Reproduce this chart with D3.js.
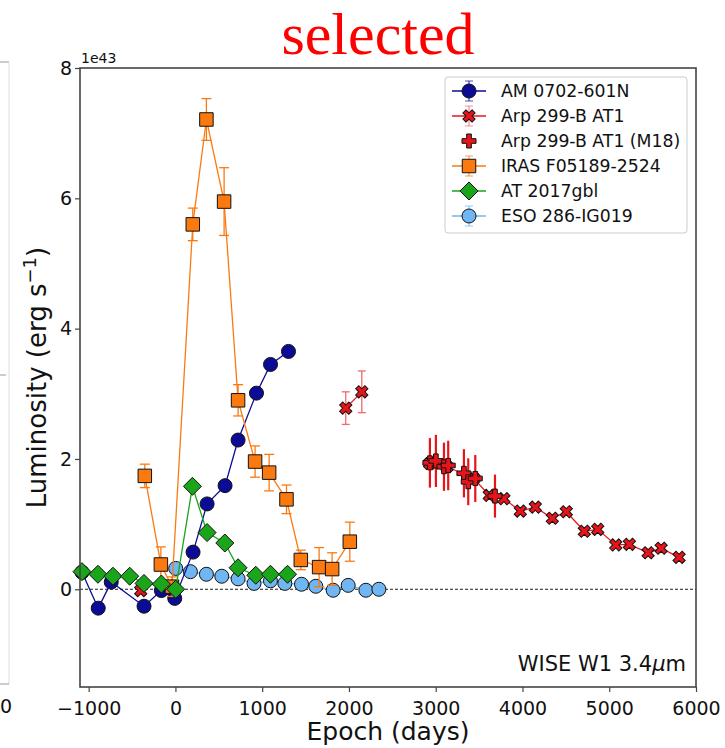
<!DOCTYPE html>
<html>
<head>
<meta charset="utf-8">
<script src="https://cdn.jsdelivr.net/npm/d3@7"></script>
<style>
  body { margin: 0; background: #fff; }
  svg { display: block; font-family: "DejaVu Sans", sans-serif; }
</style>
</head>
<body>
<svg id="chart"></svg>
<script>
// AM 0702-601N
const amEpoch = [-1077, -890, -740, -362, -162, -8, 203, 365, 572, 722, 934, 1096, 1303];
const amLum = [0.26, -0.29, 0.11, -0.26, -0.02, -0.14, 0.57, 1.31, 1.59, 2.29, 3.01, 3.45, 3.65];

// Arp 299-B AT1 (three separate runs)
const arpPreEpoch = [-400];
const arpPreLum = [-0.02];
const arpEpoch = [1963, 2148];
const arpLum = [2.78, 3.03];
const arpErr = [0.25, 0.32];
const arpLateEpoch = [2930, 3130, 3440, 3617, 3786, 3975, 4148, 4344, 4505, 4713, 4867, 5075, 5232, 5448, 5598, 5805];
const arpLateLum = [1.93, 1.88, 1.70, 1.44, 1.39, 1.20, 1.26, 1.09, 1.19, 0.89, 0.92, 0.68, 0.69, 0.56, 0.63, 0.49];

// Arp 299-B AT1 (M18)
const m18Epoch = [2933, 3002, 3095, 3144, 3325, 3375, 3456, 3683];
const m18Lum = [1.94, 1.97, 1.88, 1.90, 1.78, 1.65, 1.70, 1.43];
const m18Err = [0.38, 0.40, 0.37, 0.38, 0.37, 0.36, 0.36, 0.33];

// IRAS F05189-2524
const irasEpoch = [-353, -168, -40, 200, 357, 561, 722, 918, 1080, 1280, 1445, 1656, 1806, 2010];
const irasLum = [1.74, 0.38, 0.04, 5.60, 7.21, 5.95, 2.90, 1.96, 1.79, 1.38, 0.45, 0.34, 0.31, 0.73];
const irasErr = [0.18, 0.27, 0.15, 0.25, 0.32, 0.52, 0.24, 0.24, 0.28, 0.22, 0.15, 0.30, 0.25, 0.30];

// AT 2017gbl
const gblEpoch = [-1077, -893, -720, -527, -362, -162, 3, 196, 365, 569, 722, 926, 1095, 1292];
const gblLum = [0.27, 0.23, 0.20, 0.20, 0.09, 0.08, 0.0, 1.58, 0.87, 0.71, 0.33, 0.215, 0.23, 0.23];

// ESO 286-IG019
const esoEpoch = [3, 173, 357, 534, 722, 906, 1095, 1261, 1453, 1618, 1818, 1991, 2195, 2345];
const esoLum = [0.32, 0.27, 0.23, 0.20, 0.16, 0.09, 0.13, 0.09, 0.077, 0.046, -0.015, 0.06, -0.015, 0.0];

const xTicks = [-1000, 0, 1000, 2000, 3000, 4000, 5000, 6000];
const yTicks = [0, 2, 4, 6, 8];

const legendNames = ["AM 0702-601N", "Arp 299-B AT1", "Arp 299-B AT1 (M18)", "IRAS F05189-2524", "AT 2017gbl", "ESO 286-IG019"];

const width = 725;
const height = 748;
const plot = { left: 80, right: 696, top: 68, bottom: 687 };

const svg = d3.select("#chart").attr("width", width).attr("height", height);

const x = d3.scaleLinear().domain([-1100, 6000]).range([plot.left, plot.right]);
const y = d3.scaleLinear().domain([-1.5, 8]).range([plot.bottom, plot.top]);

// marker shapes
const shapes = {
	circle: (s) => d3.symbol().type(d3.symbolCircle).size(Math.PI * s * s / 4)(),
	square: (s) => `M${-s / 2},${-s / 2}h${s}v${s}h${-s}Z`,
	diamond: (s) => `M0,${-s / 2}L${s / 2},0L0,${s / 2}L${-s / 2},0Z`,
	plus: (s) => { const a = s / 2, b = s / 6; return `M${-b},${-a}h${2 * b}v${a - b}h${a - b}v${2 * b}h${b - a}v${a - b}h${-2 * b}v${b - a}h${b - a}v${-2 * b}h${a - b}Z`; },
};
shapes.xmark = (s) => shapes.plus(s);

const zip = (xs, ys, es) => xs.map((d, i) => ({ x: d, y: ys[i], e: es ? es[i] : 0 }));

// remnant of the neighbouring panel on the left
const rem = svg.append("g").attr("stroke", "#999").attr("stroke-width", 1);
rem.append("line").attr("x1", 0).attr("x2", 9).attr("y1", 62).attr("y2", 62);
rem.append("line").attr("x1", 9).attr("x2", 9).attr("y1", 62).attr("y2", 684).attr("stroke", "#ddd");
rem.append("line").attr("x1", 0).attr("x2", 9).attr("y1", 684).attr("y2", 684);
rem.append("line").attr("x1", 0).attr("x2", 6).attr("y1", 375).attr("y2", 375);
svg.append("text").attr("x", 0).attr("y", 713)
	.attr("font-size", 19).attr("fill", "#111").text("0");

// title
svg.append("text").attr("x", 378).attr("y", 54).attr("text-anchor", "middle")
	.attr("font-family", "'Liberation Serif', 'Times New Roman', serif")
	.attr("font-size", 60).attr("fill", "#f00").text("selected");

// zero line
svg.append("line")
	.attr("x1", plot.left).attr("x2", plot.right)
	.attr("y1", y(0)).attr("y2", y(0))
	.attr("stroke", "#000").attr("stroke-width", 0.9).attr("stroke-dasharray", "3,2");

const body = svg.append("g");

function drawSeries(pts, o) {
	const g = body.append("g");
	if (o.line) {
		g.append("path")
			.attr("d", d3.line().x((d) => x(d.x)).y((d) => y(d.y))(pts))
			.attr("fill", "none").attr("stroke", o.color).attr("stroke-width", 1.3);
	}
	const eb = pts.filter((d) => d.e > 0);
	g.selectAll(".eb").data(eb).enter().append("line")
		.attr("x1", (d) => x(d.x)).attr("x2", (d) => x(d.x))
		.attr("y1", (d) => y(d.y - d.e)).attr("y2", (d) => y(d.y + d.e))
		.attr("stroke", o.ecolor || o.color).attr("stroke-width", o.ewidth || 1.3);
	if (o.cap) {
		[-1, 1].forEach((s) => {
			g.selectAll(".cap" + s).data(eb).enter().append("line")
				.attr("x1", (d) => x(d.x) - o.cap).attr("x2", (d) => x(d.x) + o.cap)
				.attr("y1", (d) => y(d.y + s * d.e)).attr("y2", (d) => y(d.y + s * d.e))
				.attr("stroke", o.ecolor || o.color).attr("stroke-width", 1.3);
		});
	}
	g.selectAll(".m").data(pts).enter().append("path")
		.attr("d", shapes[o.shape](o.size))
		.attr("transform", (d) => `translate(${x(d.x)},${y(d.y)})` + (o.rotate ? ` rotate(${o.rotate})` : ""))
		.attr("fill", o.fill || o.color).attr("stroke", "#111").attr("stroke-width", 1);
}

const sty = {
	eso: { color: "#6fb6f2", shape: "circle", size: 14, line: true },
	am: { color: "#0b0b96", shape: "circle", size: 14, line: true },
	arp: { color: "#e8141a", shape: "xmark", size: 13, rotate: 45, line: true, cap: 4, ecolor: "#ee6a6e" },
	m18: { color: "#e8141a", shape: "plus", size: 14, line: false, ewidth: 2.2 },
	iras: { color: "#fb7a10", shape: "square", size: 13.5, line: true, cap: 5 },
	gbl: { color: "#1aa51a", shape: "diamond", size: 18, line: true },
};

drawSeries(zip(esoEpoch, esoLum), sty.eso);
drawSeries(zip(amEpoch, amLum), sty.am);
drawSeries(zip(arpPreEpoch, arpPreLum), sty.arp);
drawSeries(zip(arpEpoch, arpLum, arpErr), sty.arp);
drawSeries(zip(arpLateEpoch, arpLateLum), sty.arp);
drawSeries(zip(m18Epoch, m18Lum, m18Err), sty.m18);
drawSeries(zip(irasEpoch, irasLum, irasErr), sty.iras);
drawSeries(zip(gblEpoch, gblLum), sty.gbl);

// axes
const axisColor = "#444";
const xAxis = svg.append("g").attr("transform", `translate(0,${plot.bottom})`)
	.call(d3.axisBottom(x).tickValues(xTicks).tickSize(5).tickSizeOuter(0).tickFormat((d) => d < 0 ? "\u2212" + Math.abs(d) : d));
const yAxis = svg.append("g").attr("transform", `translate(${plot.left},0)`)
	.call(d3.axisLeft(y).tickValues(yTicks).tickSize(5).tickSizeOuter(0));
[xAxis, yAxis].forEach((a) => {
	a.select(".domain").remove();
	a.selectAll("line").attr("stroke", axisColor).attr("stroke-width", 1.2);
	a.selectAll("text").attr("font-size", 19).attr("font-family", "DejaVu Sans").attr("fill", "#111");
});
xAxis.selectAll("text").attr("dy", "1.05em");

// frame
svg.append("rect")
	.attr("x", plot.left).attr("y", plot.top)
	.attr("width", plot.right - plot.left).attr("height", plot.bottom - plot.top)
	.attr("fill", "none").attr("stroke", axisColor).attr("stroke-width", 1.6);

svg.append("text").attr("x", 81).attr("y", 63).attr("font-size", 14).attr("fill", "#111").text("1e43");

// axis labels
svg.append("text").attr("x", (plot.left + plot.right) / 2).attr("y", 740)
	.attr("text-anchor", "middle").attr("font-size", 25).attr("fill", "#111").text("Epoch (days)");

const yl = svg.append("text")
	.attr("transform", `translate(46,${(plot.top + plot.bottom) / 2}) rotate(-90)`)
	.attr("text-anchor", "middle").attr("font-size", 26).attr("fill", "#111");
yl.append("tspan").text("Luminosity (erg s");
yl.append("tspan").attr("font-size", 18).attr("dy", -10).text("\u22121");
yl.append("tspan").attr("dy", 10).text(")");

svg.append("text").attr("x", 686).attr("y", 671).attr("text-anchor", "end")
	.attr("font-size", 21).attr("fill", "#111")
	.html('WISE W1 3.4<tspan font-style="italic">\u03bc</tspan>m');

// legend
const legend = svg.append("g").attr("transform", "translate(445,77)");
legend.append("rect").attr("width", 242).attr("height", 156).attr("rx", 3)
	.attr("fill", "#fff").attr("fill-opacity", 0.85).attr("stroke", "#ccc").attr("stroke-width", 1);

const legendStyles = [sty.am, sty.arp, sty.m18, sty.iras, sty.gbl, sty.eso];
const legendErr = [true, true, false, true, false, true];

legendNames.forEach((name, i) => {
	const o = legendStyles[i];
	const row = legend.append("g").attr("transform", `translate(24,${14 + i * 25})`);
	if (o.line) {
		row.append("line").attr("x1", -17).attr("x2", 17).attr("stroke", o.color).attr("stroke-width", 1.3);
	}
	if (legendErr[i]) {
		const ec = o.ecolor || o.color;
		row.append("line").attr("y1", -10).attr("y2", 10).attr("stroke", ec).attr("stroke-width", 1.3).attr("opacity", 0.7);
		row.append("line").attr("x1", -4).attr("x2", 4).attr("y1", -10).attr("y2", -10).attr("stroke", ec).attr("opacity", 0.7);
		row.append("line").attr("x1", -4).attr("x2", 4).attr("y1", 10).attr("y2", 10).attr("stroke", ec).attr("opacity", 0.7);
	}
	row.append("path").attr("d", shapes[o.shape](o.size))
		.attr("transform", o.rotate ? `rotate(${o.rotate})` : null)
		.attr("fill", o.color).attr("stroke", "#111").attr("stroke-width", 1);
	row.append("text").attr("x", 32).attr("dy", "0.35em")
		.attr("font-size", 17.3).attr("fill", "#111").text(name);
});
</script>
</body>
</html>
